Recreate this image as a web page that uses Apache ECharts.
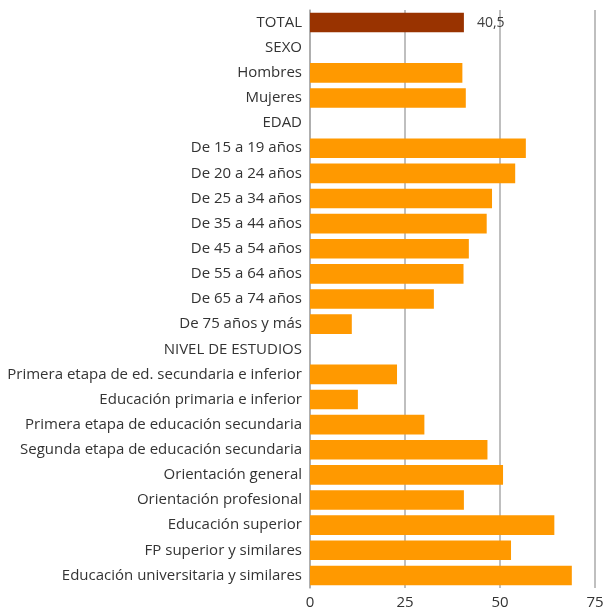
<!DOCTYPE html>
<html>
<head>
<meta charset="utf-8">
<script src="https://cdn.jsdelivr.net/npm/echarts@6/dist/echarts.min.js"></script>
<style>
  html, body { margin: 0; padding: 0; background: #fff; }
  #chart { width: 603px; height: 611px; }
</style>
</head>
<body>
<div id="chart"></div>
<script>
// categories, top to bottom
const categories = [
  'TOTAL', 'SEXO', 'Hombres', 'Mujeres', 'EDAD',
  'De 15 a 19 años', 'De 20 a 24 años', 'De 25 a 34 años', 'De 35 a 44 años',
  'De 45 a 54 años', 'De 55 a 64 años', 'De 65 a 74 años', 'De 75 años y más',
  'NIVEL DE ESTUDIOS',
  'Primera etapa de ed. secundaria e inferior', 'Educación primaria e inferior',
  'Primera etapa de educación secundaria', 'Segunda etapa de educación secundaria',
  'Orientación general', 'Orientación profesional', 'Educación superior',
  'FP superior y similares', 'Educación universitaria y similares'
];

// values (null = section heading, no bar)
const values = [
  40.5, null, 40.1, 41.0, null,
  56.8, 54.0, 47.9, 46.5, 41.8, 40.4, 32.6, 11.0,
  null,
  22.9, 12.6, 30.1, 46.7, 50.8, 40.5, 64.3, 52.9, 68.9
];

const xTicks = [0, 25, 50, 75];

const chart = echarts.init(document.getElementById('chart'));

const seriesData = values.map((v, i) => {
  if (i === 0) {
    return {
      value: v,
      itemStyle: { color: '#993300' },
      label: {
        show: true,
        position: 'right',
        distance: 13,
        formatter: p => String(p.value).replace('.', ','),
        color: '#404040',
        fontSize: 14,
        fontFamily: 'Open Sans'
      }
    };
  }
  return v;
});

const option = {
  animation: false,
  grid: { left: 310, right: 8, top: 10, bottom: 23, outerBoundsMode: 'none' },
  xAxis: {
    type: 'value',
    min: xTicks[0],
    max: xTicks[xTicks.length - 1],
    interval: 25,
    axisLine: { show: false },
    axisTick: { show: false },
    axisLabel: { color: '#333', fontSize: 15, fontFamily: 'Open Sans', margin: 7 },
    splitLine: { lineStyle: { color: '#aaa', width: 1.5 } }
  },
  yAxis: {
    type: 'category',
    inverse: true,
    data: categories,
    axisLine: { show: true, lineStyle: { color: '#aaa', width: 1.5 } },
    axisTick: { show: false },
    axisLabel: { color: '#333', fontSize: 15, fontFamily: 'Open Sans', margin: 8 }
  },
  series: [{
    type: 'bar',
    data: seriesData,
    barCategoryGap: '22%',
    itemStyle: { color: '#FF9900' }
  }]
};

chart.setOption(option);
</script>
</body>
</html>
